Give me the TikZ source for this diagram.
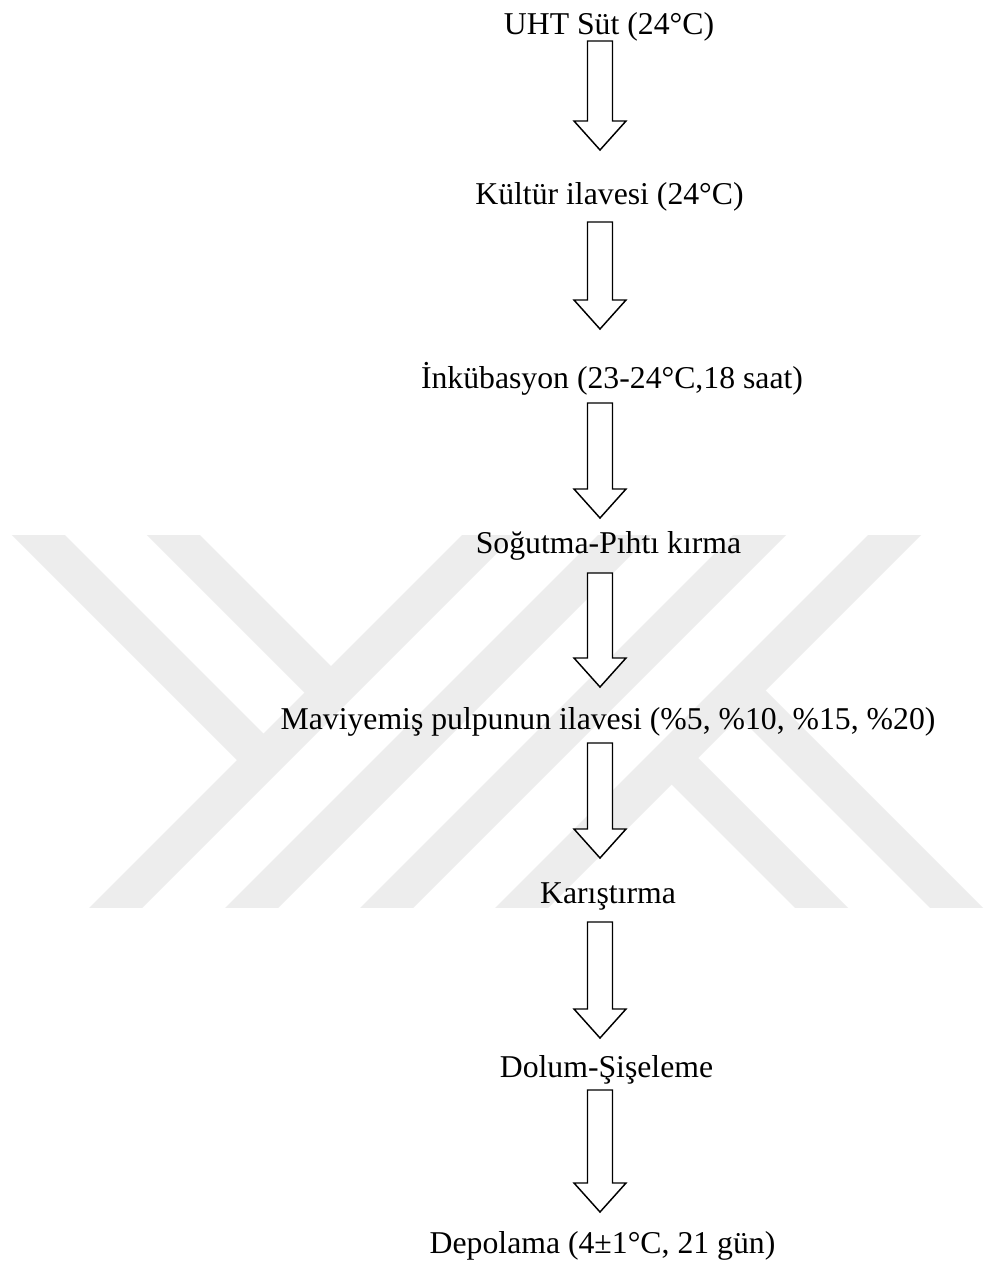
\documentclass[tikz,border=0pt]{standalone}
\usepackage{fontspec}
\setmainfont{Liberation Serif}
\usetikzlibrary{calc}
\newcommand{\blkarrow}[2]{%
  \draw[blockarrow] ($(#1)+(-12.5,0)$) -- ($(#2)+(-12.5,-29)$) -- ($(#2)+(-26,-29)$) -- (#2)
    -- ($(#2)+(26,-29)$) -- ($(#2)+(12.5,-29)$) -- ($(#1)+(12.5,0)$) -- cycle;}
\begin{document}
\begin{tikzpicture}[x=0.75pt,y=-0.75pt,
  lbl/.style={anchor=base, inner sep=0pt, font=\fontsize{23.8}{28}\selectfont},
  blockarrow/.style={draw=black, line width=1.1pt, fill=white, line join=miter},
  wm/.style={fill=black!7, draw=none}]
\useasboundingbox (0,0) rectangle (985,1266);
\fill[white] (0,0) rectangle (985,1266);
% watermark
\begin{scope}
  \clip (0,535) rectangle (985,907);
  \fill[wm] (497,500) -- (550,500) -- (100,950) -- (47,950) -- cycle;
  \fill[wm] (633,500) -- (686,500) -- (236,950) -- (183,950) -- cycle;
  \fill[wm] (768,500) -- (821,500) -- (371,950) -- (318,950) -- cycle;
  \fill[wm] (903,500) -- (956,500) -- (506,950) -- (453,950) -- cycle;
  \fill[wm] (-23,500) -- (30,500) -- (265,735) -- (238.5,761.5) -- cycle;
  \fill[wm] (112,500) -- (165,500) -- (332.5,667.5) -- (306,694) -- cycle;
  \fill[wm] (736,714) -- (762.5,687.5) -- (1025,950) -- (972,950) -- cycle;
  \fill[wm] (668.5,781.5) -- (695,755) -- (890,950) -- (837,950) -- cycle;
\end{scope}
% steps
\node[lbl] (n1) at (609,35) {UHT Süt (24°C)};
\node[lbl] (n2) at (609.5,205) {Kültür ilavesi (24°C)};
\node[lbl] (n3) at (612,388) {İnkübasyon (23-24°C,18 saat)};
\node[lbl] (n4) at (608.5,553) {Soğutma-Pıhtı kırma};
\node[lbl] (n5) at (608,729) {Maviyemiş pulpunun ilavesi (\%5, \%10, \%15, \%20)};
\node[lbl] (n6) at (608,903) {Karıştırma};
\node[lbl] (n7) at (606.5,1077) {Dolum-Şişeleme};
\node[lbl] (n8) at (602.5,1253) {Depolama (4±1°C, 21 gün)};
% arrow ends
\coordinate (s1) at (600,41);   \coordinate (e1) at (600,150);
\coordinate (s2) at (600,222);  \coordinate (e2) at (600,329);
\coordinate (s3) at (600,403);  \coordinate (e3) at (600,518);
\coordinate (s4) at (600,573);  \coordinate (e4) at (600,687);
\coordinate (s5) at (600,743);  \coordinate (e5) at (600,858);
\coordinate (s6) at (600,922);  \coordinate (e6) at (600,1038);
\coordinate (s7) at (600,1090); \coordinate (e7) at (600,1212);
\blkarrow{s1}{e1}
\blkarrow{s2}{e2}
\blkarrow{s3}{e3}
\blkarrow{s4}{e4}
\blkarrow{s5}{e5}
\blkarrow{s6}{e6}
\blkarrow{s7}{e7}
\end{tikzpicture}
\end{document}
